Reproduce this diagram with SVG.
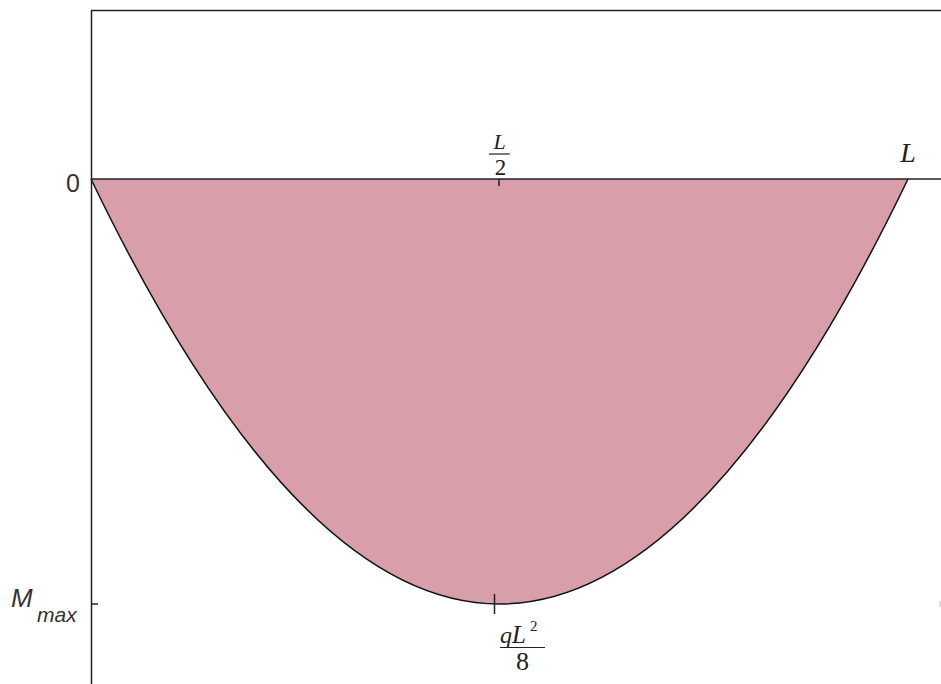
<svg xmlns="http://www.w3.org/2000/svg" width="941" height="684" viewBox="0 0 941 684">
<style>
.ax{stroke:#222;stroke-width:1.5;fill:none}
.tk{stroke:#222;stroke-width:1.5}
.serif{font-family:"Liberation Serif","DejaVu Serif",serif;font-style:italic;fill:#222}
.num{font-family:"Liberation Serif","DejaVu Serif",serif;fill:#222}
.sans{font-family:"Liberation Sans","DejaVu Sans",sans-serif;fill:#333}
</style>
<rect width="941" height="684" fill="#fff"/>
<g id="moment-area">
<path d="M91,179 Q499.5,1029 908,179 Z" fill="#d89ea9" stroke="none"/>
<path d="M91,179 Q499.5,1029 908,179" fill="none" stroke="#111" stroke-width="1.5"/>
</g>
<g id="axes">
<path class="ax" d="M91.5,684 V10.5 H941"/>
<line class="ax" x1="91" y1="179" x2="941" y2="179"/>
<line class="tk" x1="499" y1="179" x2="499" y2="186" stroke="#5a1a2a"/>
<line class="tk" x1="91" y1="604" x2="98" y2="604"/>
<line class="tk" x1="494.5" y1="594" x2="494.5" y2="614"/>
<line x1="940" y1="601" x2="940" y2="607" stroke="#bbb" stroke-width="1"/>
</g>
<g id="labels">
<text class="sans" x="80" y="192" font-size="25" text-anchor="end">0</text>
<text class="sans" x="11" y="607" font-size="26" font-style="italic">M</text>
<text class="sans" x="37" y="622" font-size="21" font-style="italic">max</text>
<text class="serif" x="499.5" y="149" font-size="22" text-anchor="middle">L</text>
<line x1="489" y1="154" x2="510" y2="154" stroke="#222" stroke-width="1.2"/>
<text class="num" x="500.5" y="175" font-size="23" text-anchor="middle">2</text>
<text class="serif" x="908" y="162" font-size="28" text-anchor="middle">L</text>
<text class="serif" x="500" y="643" font-size="24">q</text>
<text class="serif" x="512" y="643" font-size="25">L</text>
<text class="num" x="530" y="631" font-size="15">2</text>
<line x1="500" y1="647.5" x2="545" y2="647.5" stroke="#222" stroke-width="1.2"/>
<text class="num" x="522.5" y="670" font-size="26" text-anchor="middle">8</text>
</g>
</svg>
